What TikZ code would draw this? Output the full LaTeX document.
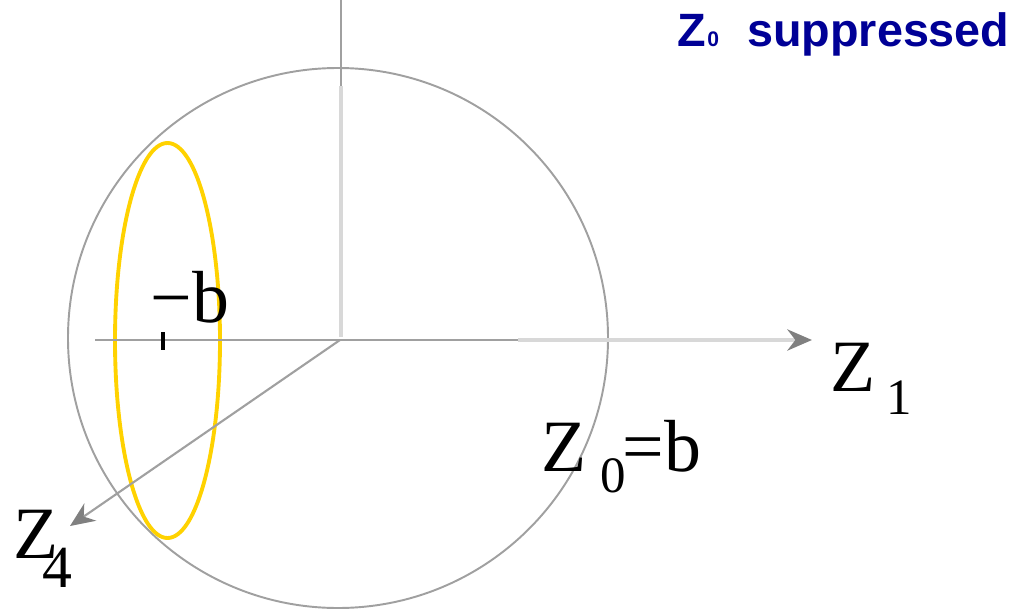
\documentclass[tikz,border=0pt]{standalone}
\usepackage{fontspec}
\setmainfont{Liberation Serif}
\newfontfamily\titlefont{Liberation Sans}
\usetikzlibrary{arrows.meta}
\definecolor{titleblue}{RGB}{0,0,150}
\definecolor{axisdark}{RGB}{160,160,160}
\definecolor{axislight}{RGB}{216,216,216}
\definecolor{ringgold}{RGB}{255,210,0}
\newcommand\axlab[4]{Z\kern#2\raisebox{-#3}{\fontsize{#4}{#4}\selectfont #1}}

\begin{document}
\begin{tikzpicture}[x=1cm, y=1cm,
    darkaxis/.style={axisdark, line width=0.6pt},
    lightaxis/.style={axislight, line width=1.2pt},
    sphere/.style={axisdark, line width=0.55pt},
    lab/.style={anchor=base west, inner sep=0pt, font=\fontsize{21}{21}\selectfont}]
    \useasboundingbox (0,0) rectangle (10.16,-6.09);

    \coordinate (O) at (3.40,-3.40);
    \coordinate (ztop) at (3.41,0);
    \coordinate (zmid) at (3.41,-0.86);
    \coordinate (zorig) at (3.41,-3.37);
    \coordinate (xleft) at (0.95,-3.40);
    \coordinate (xmid) at (5.18,-3.40);
    \coordinate (xtip) at (8.12,-3.40);
    \coordinate (ftip) at (0.70,-5.26);

    % sphere and the ring at -b
    \draw[sphere] (3.38,-3.38) circle (2.70);
    \draw[ringgold, line width=1.1pt] (1.675,-3.405) ellipse (0.525 and 1.975);

    % axes
    \draw[darkaxis] (ztop) -- (zmid);
    \draw[lightaxis] (zmid) -- (zorig);
    \draw[darkaxis] (xleft) -- (xmid);
    \draw[lightaxis, -{Stealth[length=7pt, width=6pt, color=axisdark!80!black]}] (xmid) -- (xtip);
    \draw[darkaxis, -{Stealth[length=7pt, width=6pt, color=axisdark!80!black]}] (O) -- (ftip);

    \coordinate (tickhi) at (1.63,-3.32);
    \coordinate (ticklo) at (1.63,-3.50);
    \draw[black, line width=1pt] (tickhi) -- (ticklo);

    \node[lab] (mb) at (1.50,-3.22) {−b};
    \node[lab] (z1) at (8.30,-3.91) {\axlab{1}{3pt}{6.8pt}{14.5}};
    \node[lab] (z0) at (5.41,-4.71) {\axlab{0}{4pt}{6pt}{14.5}\kern-1pt=b};
    \node[lab] (z4) at (0.13,-5.58) {\axlab{4}{-4.5pt}{8.5pt}{17}};

    \node[anchor=base west, inner sep=0pt, text=titleblue,
          font=\titlefont\bfseries\fontsize{13.3}{13.3}\selectfont] (title) at (6.77,-0.46)
        {Z\kern0.3pt{\fontsize{6}{6}\selectfont 0}\hspace{8pt}suppressed};
\end{tikzpicture}
\end{document}
